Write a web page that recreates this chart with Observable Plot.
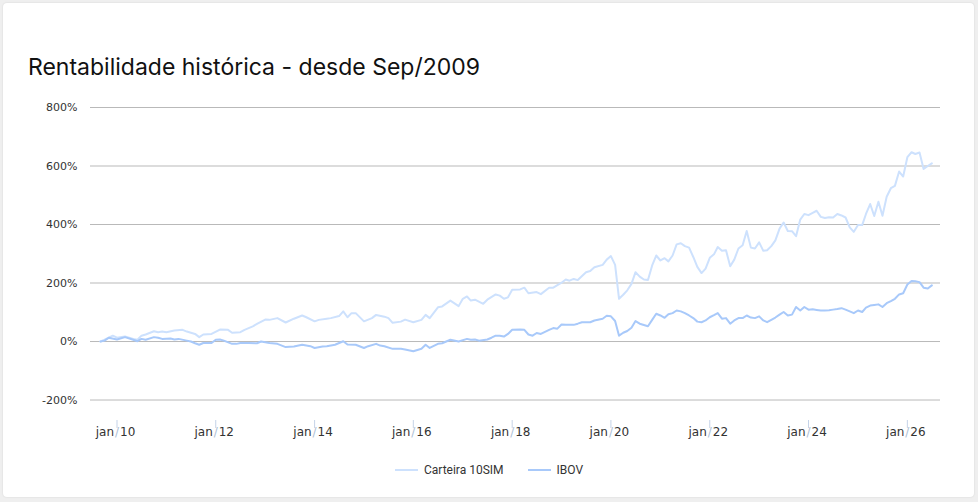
<!DOCTYPE html>
<html>
<head>
<meta charset="utf-8">
<script src="https://cdn.jsdelivr.net/npm/d3@7"></script>
<script src="https://cdn.jsdelivr.net/npm/@observablehq/plot@0.6"></script>
<style>
  html, body { margin: 0; padding: 0; }
  body { width: 978px; height: 502px; background: #efefef; position: relative; overflow: hidden; font-family: "DejaVu Sans", sans-serif; }
  #card { position: absolute; left: 3px; top: 3px; width: 971px; height: 494px; background: #fff; border-radius: 4px; box-shadow: 0 0 2px rgba(0,0,0,0.12); }
  #title { position: absolute; left: 28px; top: 56px; font-family: Inter, "Open Sans", sans-serif; font-size: 23px; line-height: 23px; color: #111; font-weight: 400; white-space: nowrap; }
  #chart { position: absolute; left: 0; top: 90px; }
  #legend { position: absolute; left: 0; width: 978px; top: 463px; display: flex; justify-content: center; align-items: center; font-family: Roboto, sans-serif; font-size: 12px; color: #333; }
  .item { display: flex; align-items: center; margin: 0 12px; }
  .sw { width: 23px; height: 2px; margin-right: 6px; }
</style>
</head>
<body>
<div id="card"></div>
<div id="title">Rentabilidade histórica - desde Sep/2009</div>
<div id="chart"></div>
<div id="legend"></div>
<script>
const seriesNames = ["Carteira 10SIM", "IBOV"];
const seriesColors = ["#cde1fd", "#a8c9fa"];

const carteiraDates = ["2009-09","2009-10","2009-12","2010-01","2010-03","2010-05","2010-06","2010-07","2010-08","2010-10","2010-11","2010-12","2011-01","2011-03","2011-05","2011-06","2011-08","2011-09","2011-10","2011-12","2012-02","2012-04","2012-05","2012-07","2012-08","2012-10","2012-11","2013-01","2013-02","2013-04","2013-06","2013-08","2013-10","2013-11","2014-01","2014-02","2014-04","2014-05","2014-07","2014-08","2014-09","2014-10","2014-11","2015-01","2015-03","2015-04","2015-06","2015-07","2015-08","2015-10","2015-11","2016-01","2016-03","2016-04","2016-05","2016-07","2016-08","2016-10","2016-12","2017-01","2017-02","2017-03","2017-04","2017-06","2017-07","2017-09","2017-10","2017-11","2017-12","2018-01","2018-03","2018-04","2018-05","2018-07","2018-08","2018-10","2018-11","2019-01","2019-02","2019-03","2019-04","2019-05","2019-07","2019-08","2019-09","2019-11","2019-12","2020-01","2020-02","2020-03","2020-04","2020-05","2020-06","2020-07","2020-08","2020-09","2020-10","2020-11","2020-12","2021-01","2021-02","2021-03","2021-04","2021-05","2021-06","2021-07","2021-08","2021-09","2021-10","2021-11","2021-12","2022-01","2022-02","2022-03","2022-04","2022-05","2022-06","2022-07","2022-08","2022-09","2022-10","2022-11","2022-12","2023-01","2023-02","2023-03","2023-04","2023-05","2023-06","2023-07","2023-08","2023-09","2023-10","2023-11","2023-12","2024-01","2024-02","2024-03","2024-04","2024-05","2024-06","2024-07","2024-08","2024-09","2024-10","2024-11","2024-12","2025-01","2025-02","2025-03","2025-04","2025-05","2025-06","2025-07","2025-08","2025-09","2025-10","2025-11","2025-12","2026-01","2026-02","2026-03","2026-04","2026-05","2026-06","2026-07"];
const carteiraValues = [0,6,20,13,17,9,6,20,24,35,32,34,32,38,40,34,26,15,24,26,41,40,30,32,40,52,60,75,74,80,65,78,89,83,69,74,78,80,87,103,83,97,97,69,80,91,85,80,64,68,75,66,74,91,80,117,120,140,121,146,154,140,143,129,143,161,157,146,151,177,178,184,165,169,162,184,184,201,212,208,214,210,237,241,254,262,280,292,262,146,160,175,197,237,222,212,210,260,294,277,285,274,294,332,336,326,321,289,255,234,249,286,298,323,310,312,257,280,318,329,378,321,318,339,310,312,326,346,386,407,378,377,360,417,436,432,440,447,426,422,425,424,436,431,424,390,375,398,398,436,470,429,478,430,495,524,532,581,564,630,647,641,646,590,600,609];

const ibovDates = ["2009-09","2009-10","2009-11","2010-01","2010-03","2010-05","2010-06","2010-07","2010-08","2010-10","2010-11","2010-12","2011-02","2011-03","2011-04","2011-06","2011-07","2011-08","2011-09","2011-10","2011-12","2012-01","2012-02","2012-03","2012-05","2012-06","2012-07","2012-09","2012-11","2012-12","2013-02","2013-04","2013-06","2013-08","2013-10","2013-12","2014-01","2014-03","2014-04","2014-06","2014-08","2014-09","2014-11","2015-01","2015-02","2015-04","2015-05","2015-06","2015-08","2015-10","2015-11","2016-01","2016-03","2016-04","2016-05","2016-07","2016-08","2016-10","2016-12","2017-02","2017-03","2017-04","2017-05","2017-07","2017-08","2017-09","2017-10","2017-11","2017-12","2018-01","2018-03","2018-04","2018-05","2018-06","2018-07","2018-08","2018-10","2018-11","2018-12","2019-01","2019-02","2019-04","2019-05","2019-06","2019-08","2019-09","2019-11","2019-12","2020-01","2020-02","2020-03","2020-04","2020-05","2020-06","2020-07","2020-08","2020-10","2020-11","2020-12","2021-01","2021-02","2021-03","2021-04","2021-05","2021-06","2021-07","2021-08","2021-09","2021-10","2021-11","2021-12","2022-01","2022-02","2022-03","2022-04","2022-05","2022-06","2022-07","2022-08","2022-09","2022-10","2022-11","2022-12","2023-01","2023-02","2023-03","2023-04","2023-05","2023-06","2023-07","2023-08","2023-09","2023-10","2023-11","2023-12","2024-01","2024-02","2024-03","2024-04","2024-05","2024-06","2024-07","2024-08","2024-09","2024-10","2024-11","2024-12","2025-01","2025-02","2025-03","2025-04","2025-05","2025-06","2025-07","2025-08","2025-09","2025-10","2025-11","2025-12","2026-01","2026-02","2026-03","2026-04","2026-05","2026-06","2026-07"];
const ibovValues = [0,3,13,7,15,6,1,9,6,15,13,9,10,7,9,3,0,-6,-11,-5,-5,6,7,3,-8,-8,-5,-5,-6,0,-5,-8,-19,-17,-11,-16,-22,-17,-16,-11,1,-10,-11,-22,-16,-8,-14,-16,-25,-25,-27,-33,-25,-11,-22,-8,-6,6,0,9,6,7,3,7,13,20,20,17,26,40,41,40,24,20,29,26,40,46,44,58,57,57,61,66,66,72,78,88,86,70,20,30,36,47,70,61,52,74,95,89,81,93,97,106,103,97,89,80,68,66,72,83,90,97,78,80,61,72,80,80,89,82,80,86,72,66,74,82,92,101,89,92,118,106,118,109,110,108,106,106,107,109,111,114,109,103,97,106,101,116,123,125,127,118,131,138,146,161,165,195,207,206,203,184,181,192];

const yTicks = [-200, 0, 200, 400, 600, 800];
const xTickYears = ["2010","2012","2014","2016","2018","2020","2022","2024","2026"];

const parseMonth = d3.utcParse("%Y-%m");
const rows = [
  ...carteiraDates.map((d, i) => ({date: parseMonth(d), value: carteiraValues[i], series: seriesNames[0]})),
  ...ibovDates.map((d, i) => ({date: parseMonth(d), value: ibovValues[i], series: seriesNames[1]}))
];
const xTicks = xTickYears.map(y => d3.utcParse("%Y")(y));
const yy = d => d3.utcFormat("%y")(d);

const chart = Plot.plot({
  width: 978,
  height: 370,
  marginLeft: 90,
  marginRight: 38,
  marginTop: 17,
  marginBottom: 40,
  style: {background: "transparent", fontFamily: "DejaVu Sans, sans-serif", fontSize: "11px", color: "#444"},
  x: {type: "utc", domain: [new Date(Date.UTC(2009, 5, 19)), new Date(Date.UTC(2026, 8, 3))]},
  y: {domain: [-270, 800]},
  color: {domain: seriesNames, range: seriesColors},
  marks: [
    Plot.gridY(yTicks, {stroke: "#b9b9b9", strokeOpacity: 1}),
    Plot.axisY(yTicks, {tickSize: 0, tickPadding: 13, tickFormat: d => `${d}%`, label: null, fill: "#333", fontSize: 11}),
    Plot.axisX(xTicks, {tickSize: 8, stroke: "#c5d3e8", strokeOpacity: 1, text: null, label: null}),
    Plot.text(xTicks, {x: d => d, text: () => "jan", frameAnchor: "bottom", dy: 15, dx: -3, textAnchor: "end", fill: "#333", fontSize: 12}),
    Plot.text(xTicks, {x: d => d, text: () => "/", frameAnchor: "bottom", dy: 15, textAnchor: "middle", fill: "#aebfd6", fontSize: 12}),
    Plot.text(xTicks, {x: d => d, text: d => yy(d), frameAnchor: "bottom", dy: 15, dx: 3, textAnchor: "start", fill: "#333", fontSize: 12}),
    Plot.lineY(rows.filter(r => r.series === seriesNames[0]), {x: "date", y: "value", stroke: "series", strokeWidth: 2}),
    Plot.lineY(rows.filter(r => r.series === seriesNames[1]), {x: "date", y: "value", stroke: "series", strokeWidth: 2})
  ]
});
document.getElementById("chart").appendChild(chart);

const legend = document.getElementById("legend");
seriesNames.forEach((name, i) => {
  const item = document.createElement("div");
  item.className = "item";
  const sw = document.createElement("div");
  sw.className = "sw";
  sw.style.background = seriesColors[i];
  const label = document.createElement("span");
  label.textContent = name;
  item.appendChild(sw);
  item.appendChild(label);
  legend.appendChild(item);
});
</script>
</body>
</html>
